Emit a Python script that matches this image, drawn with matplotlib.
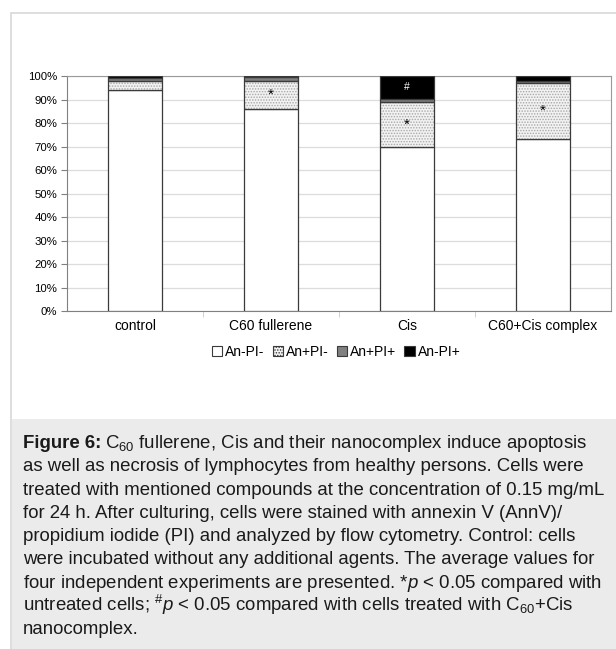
import matplotlib
matplotlib.use("Agg")
import matplotlib.pyplot as plt
from matplotlib.patches import Rectangle, Patch
from matplotlib.transforms import offset_copy
import numpy as np

plt.rcParams["font.family"] = ["Liberation Sans", "DejaVu Sans"]
plt.rcParams["mathtext.fontset"] = "custom"
plt.rcParams["mathtext.rm"] = "Liberation Sans"
plt.rcParams["mathtext.it"] = "Liberation Sans:italic"
plt.rcParams["mathtext.bf"] = "Liberation Sans:bold"
plt.rcParams["hatch.linewidth"] = 0.7

# data (% of cells)
categories = ["control", "C60 fullerene", "Cis", "C60+Cis complex"]
series_names = ["An-PI-", "An+PI-", "An+PI+", "An-PI+"]
an_neg_pi_neg = [94.3, 86.1, 69.7, 73.3]
an_pos_pi_neg = [3.7, 11.9, 19.1, 23.6]
an_pos_pi_pos = [1.2, 1.8, 1.6, 1.1]
an_neg_pi_pos = [0.8, 0.2, 9.6, 2.0]
star_marks = ["", "*", "*", "*"]      # on An+PI- segment
hash_marks = ["", "", "#", ""]        # on An-PI+ segment

series = [an_neg_pi_neg, an_pos_pi_neg, an_pos_pi_pos, an_neg_pi_pos]
faces = ["white", "#f2f2f2", "#808080", "black"]
hatches = [None, "......", None, None]

fig = plt.figure(figsize=(6.16, 6.49), dpi=100)

# outer frame and caption box
fig.add_artist(Rectangle((11 / 616, 0), 1, 1 - 13 / 649, transform=fig.transFigure,
                         facecolor="white", edgecolor="#d8d8d8", lw=1.2, zorder=0))
fig.add_artist(Rectangle((12 / 616, 0), 1, 1 - 419 / 649, transform=fig.transFigure,
                         facecolor="#ebebeb", edgecolor="none", zorder=0))

ax = fig.add_axes([67 / 616, 1 - 311 / 649, 544 / 616, 234.8 / 649])
x = np.arange(len(categories))
bottom = np.zeros(len(categories))
for vals, fc, h in zip(series, faces, hatches):
    if h:
        # stipple: light dots, then dark outline on top
        ax.bar(x, vals, width=0.404, bottom=bottom, color=fc, edgecolor="#a8a8a8",
               hatch=h, lw=0, zorder=3)
        ax.bar(x, vals, width=0.404, bottom=bottom, fill=False, edgecolor="#3a3a3a",
               lw=0.9, zorder=3.5)
    else:
        ax.bar(x, vals, width=0.404, bottom=bottom, color=fc, edgecolor="#3a3a3a",
               lw=0.9, zorder=3)
    bottom = bottom + np.array(vals)

# significance marks
for i in range(len(categories)):
    if star_marks[i]:
        yy = an_neg_pi_neg[i] + an_pos_pi_neg[i] * 0.5
        ax.text(x[i], yy, star_marks[i], ha="center", va="center", fontsize=11, zorder=4)
    if hash_marks[i]:
        yy = 100 - an_neg_pi_pos[i] * 0.5
        ax.text(x[i], yy, hash_marks[i], ha="center", va="center", fontsize=7.5,
                color="white", zorder=4)

ax.set_xlim(-0.5, 3.5)
ax.set_ylim(0, 100)
ax.set_yticks(np.arange(0, 101, 10))
ax.set_yticklabels([f"{v}%" for v in range(0, 101, 10)], fontsize=8.2)
ax.set_xticks(x)
ax.set_xticklabels(categories, fontsize=10)
ax.set_xticks([0.5, 1.5, 2.5], minor=True)
ax.tick_params(axis="x", which="major", length=0, pad=6)
ax.tick_params(axis="x", which="minor", length=4, color="#c8c8c8")
ax.tick_params(axis="y", length=4, color="#808080", pad=3)
ax.yaxis.grid(True, color="#dcdcdc", lw=0.9, zorder=0)
for s in ["left", "bottom"]:
    ax.spines[s].set_color("#808080")
for s in ["top", "right"]:
    ax.spines[s].set_color("#9a9a9a")

handles = []
for name, fc, h in zip(series_names, faces, hatches):
    handles.append(Patch(facecolor=fc, edgecolor="#3a3a3a", hatch=h, lw=0.8, label=name))
fig.legend(handles=handles, loc="center", bbox_to_anchor=(336 / 616, 1 - 352 / 649),
           ncol=4, frameon=False, fontsize=10, handlelength=0.75, handleheight=0.75,
           handletextpad=0.2, columnspacing=0.6)

caption = [
    r"C$_{60}$ fullerene, Cis and their nanocomplex induce apoptosis",
    "as well as necrosis of lymphocytes from healthy persons. Cells were",
    "treated with mentioned compounds at the concentration of 0.15 mg/mL",
    "for 24 h. After culturing, cells were stained with annexin V (AnnV)/",
    "propidium iodide (PI) and analyzed by flow cytometry. Control: cells",
    "were incubated without any additional agents. The average values for",
    r"four independent experiments are presented. *$\mathit{p}$ < 0.05 compared with",
    r"untreated cells; $^{\#}\mathit{p}$ < 0.05 compared with cells treated with C$_{60}$+Cis",
    "nanocomplex.",
]
cap_size = 13.4
y0 = 448
renderer = fig.canvas.get_renderer()
for k, line in enumerate(caption):
    yy = 1 - (y0 + k * 23.3) / 649
    if k == 0:
        t = fig.text(23 / 616, yy, "Figure 6:", fontsize=cap_size, fontweight="bold",
                     va="baseline", ha="left", color="#1a1a1a")
        w = t.get_window_extent(renderer).width
        tr = offset_copy(fig.transFigure, fig=fig, x=(w + 4) * 72 / fig.dpi, y=0,
                         units="points")
        fig.text(23 / 616, yy, line, fontsize=cap_size, va="baseline", ha="left",
                 color="#1a1a1a", transform=tr)
    else:
        fig.text(23 / 616, yy, line, fontsize=cap_size, va="baseline", ha="left",
                 color="#1a1a1a")

fig.savefig("out.png", dpi=100)
